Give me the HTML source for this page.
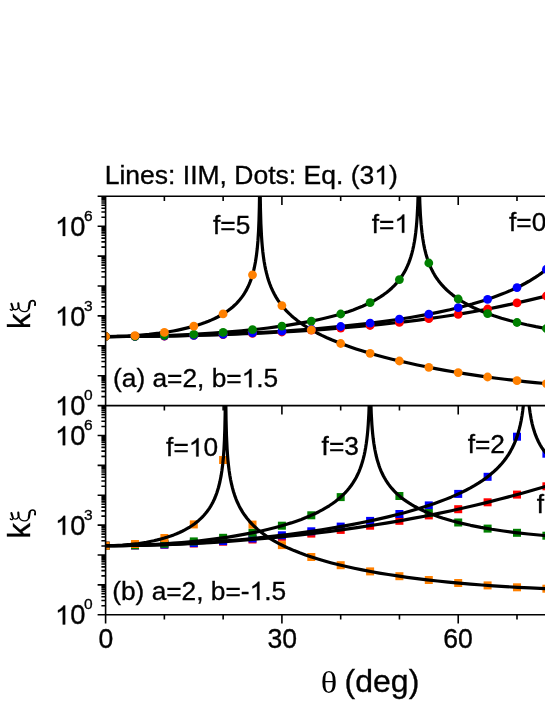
<!DOCTYPE html>
<html><head><meta charset="utf-8"><title>fig</title>
<style>
html,body{margin:0;padding:0;background:#fff;}
body{width:545px;height:705px;overflow:hidden;font-family:"Liberation Sans",sans-serif;}
svg{display:block;font-family:"Liberation Sans",sans-serif;}
</style></head><body>
<svg width="545" height="705" viewBox="0 0 545 705">
<defs><clipPath id="ca"><rect x="105.60" y="196.30" width="500" height="209.30"/></clipPath><clipPath id="cb"><rect x="105.60" y="405.60" width="500" height="209.10"/></clipPath></defs>
<g clip-path="url(#ca)">
<g fill="none" stroke="#000" stroke-width="3.20" stroke-linejoin="round">
<path d="M105.60,336.53L123.47,336.49L141.30,336.36L159.06,336.14L176.68,335.83L194.15,335.44L211.41,334.96L228.45,334.40L245.22,333.75L261.68,333.03L277.82,332.22L293.64,331.33L309.13,330.36L324.26,329.32L339.05,328.19L353.46,326.99L367.53,325.71L380.73,324.41L393.61,323.03L406.17,321.58L418.45,320.05L430.45,318.45L442.19,316.76L453.70,314.99L464.98,313.14L475.82,311.24L486.52,309.25L497.15,307.15L507.83,304.93L518.32,302.63L529.23,300.13L540.67,297.40L555.19,293.85"/>
<path d="M105.60,336.53L128.17,336.45L150.65,336.21L172.90,335.81L194.84,335.25L216.38,334.54L237.44,333.67L257.97,332.65L277.88,331.49L297.04,330.19L315.51,328.75L333.30,327.18L350.38,325.46L366.74,323.61L382.41,321.63L397.38,319.50L411.66,317.24L424.99,314.88L437.69,312.39L449.78,309.75L461.25,306.97L472.11,304.06L482.40,300.98L487.32,299.39L492.11,297.75L496.77,296.08L501.26,294.37L505.62,292.62L509.85,290.84L513.94,289.00L517.90,287.13L521.72,285.22L525.41,283.26L528.96,281.27L532.40,279.22L535.68,277.14L538.85,275.01L541.88,272.83L544.80,270.60L547.59,268.33L550.25,266.02L552.79,263.65L555.19,261.24"/>
<path d="M105.60,336.53L127.90,336.39L149.97,335.97L171.62,335.28L192.66,334.32L212.89,333.11L232.23,331.64L241.53,330.81L250.59,329.92L259.38,328.98L267.90,327.97L276.04,326.92L283.91,325.82L291.51,324.66L298.86,323.44L305.92,322.17L312.73,320.84L319.27,319.45L325.56,318.01L331.59,316.50L337.34,314.95L342.85,313.33L348.13,311.65L353.17,309.91L357.96,308.10L362.52,306.23L366.83,304.30L370.59,302.47L374.14,300.59L377.51,298.66L380.73,296.65L383.76,294.58L386.64,292.44L389.34,290.24L391.90,287.95L394.30,285.59L396.55,283.15L398.67,280.62L400.64,277.99L402.49,275.26L404.20,272.44L405.79,269.48L407.25,266.43L408.56,263.36L409.77,260.13L410.89,256.72L411.91,253.21L412.83,249.53L413.68,245.58L414.45,241.44L415.12,237.13L415.71,232.72L416.24,227.84L416.72,222.65L417.12,217.20L417.77,204.90L418.25,190.30L419.46,190.30L419.86,203.45L420.40,214.53L421.10,224.16L421.98,232.72L422.76,238.56L423.69,244.07L424.72,249.12L425.91,253.94L427.44,259.05L429.17,263.85L431.13,268.39L432.21,270.60L433.33,272.71L434.52,274.79L435.76,276.78L437.08,278.76L438.45,280.66L439.89,282.52L441.42,284.36L444.66,287.89L446.55,289.75L448.55,291.58L450.62,293.35L452.80,295.10L455.07,296.80L457.43,298.46L459.88,300.08L462.44,301.67L465.12,303.24L467.88,304.76L473.72,307.71L480.00,310.53L486.70,313.22L493.89,315.80L501.51,318.25L509.56,320.57L517.99,322.74L526.80,324.77L535.97,326.64L545.46,328.35L555.19,329.89"/>
<path d="M105.60,336.53L116.75,336.39L127.76,335.99L138.58,335.31L149.05,334.38L159.12,333.19L168.72,331.76L173.33,330.96L177.83,330.09L182.19,329.16L186.39,328.18L190.39,327.17L194.28,326.09L198.01,324.96L201.63,323.77L205.09,322.53L208.44,321.23L211.66,319.88L214.74,318.47L217.68,317.00L220.49,315.48L223.19,313.89L225.75,312.26L228.20,310.55L230.52,308.79L232.74,306.95L234.83,305.06L236.63,303.28L238.34,301.46L239.96,299.57L241.49,297.63L242.95,295.61L244.32,293.54L245.62,291.38L246.86,289.13L248.03,286.79L249.11,284.41L250.12,281.93L251.07,279.37L251.94,276.73L252.77,273.93L253.54,271.04L254.26,267.98L255.43,262.03L256.42,255.60L257.25,248.55L257.92,240.94L258.55,230.96L259.02,219.66L259.36,206.81L259.61,190.30L260.15,190.30L260.46,209.31L260.89,223.74L261.50,236.08L261.88,241.64L262.33,246.96L262.84,251.99L263.43,256.72L264.08,261.16L264.80,265.33L265.61,269.35L266.51,273.21L267.50,276.91L268.58,280.44L269.81,283.99L271.14,287.35L272.60,290.64L274.17,293.79L275.88,296.86L277.70,299.80L279.66,302.66L281.77,305.46L284.02,308.17L286.43,310.82L288.99,313.40L291.69,315.91L294.54,318.35L297.58,320.75L300.79,323.11L304.16,325.41L308.23,327.98L312.52,330.49L317.06,332.95L321.85,335.36L326.89,337.72L332.19,340.05L337.77,342.33L343.59,344.57L349.68,346.77L356.07,348.93L362.72,351.06L369.64,353.15L376.84,355.20L384.32,357.21L392.08,359.19L400.08,361.12L408.58,363.06L417.35,364.95L426.36,366.80L435.60,368.59L445.06,370.32L454.71,371.99L464.51,373.60L474.44,375.13L484.47,376.59L494.59,377.97L504.75,379.26L514.91,380.46L525.05,381.58L535.14,382.59L545.19,383.52L555.19,384.35"/>
</g>
<g fill="#ff0000">
<circle cx="105.6" cy="336.5" r="4.4"/>
<circle cx="135.0" cy="336.4" r="4.4"/>
<circle cx="164.4" cy="336.1" r="4.4"/>
<circle cx="193.8" cy="335.4" r="4.4"/>
<circle cx="223.1" cy="334.6" r="4.4"/>
<circle cx="252.5" cy="333.4" r="4.4"/>
<circle cx="281.9" cy="332.0" r="4.4"/>
<circle cx="311.3" cy="330.2" r="4.4"/>
<circle cx="340.7" cy="328.1" r="4.4"/>
<circle cx="370.1" cy="325.5" r="4.4"/>
<circle cx="399.4" cy="322.4" r="4.4"/>
<circle cx="428.8" cy="318.7" r="4.4"/>
<circle cx="458.2" cy="314.3" r="4.4"/>
<circle cx="487.6" cy="309.0" r="4.4"/>
<circle cx="517.0" cy="302.9" r="4.4"/>
<circle cx="546.4" cy="296.0" r="4.4"/>
</g>
<g fill="#0000ff">
<circle cx="105.6" cy="336.5" r="4.4"/>
<circle cx="135.0" cy="336.4" r="4.4"/>
<circle cx="164.4" cy="336.0" r="4.4"/>
<circle cx="193.8" cy="335.3" r="4.4"/>
<circle cx="223.1" cy="334.3" r="4.4"/>
<circle cx="252.5" cy="332.9" r="4.4"/>
<circle cx="281.9" cy="331.2" r="4.4"/>
<circle cx="311.3" cy="329.1" r="4.4"/>
<circle cx="340.7" cy="326.5" r="4.4"/>
<circle cx="370.1" cy="323.2" r="4.4"/>
<circle cx="399.4" cy="319.2" r="4.4"/>
<circle cx="428.8" cy="314.2" r="4.4"/>
<circle cx="458.2" cy="307.7" r="4.4"/>
<circle cx="487.6" cy="299.3" r="4.4"/>
<circle cx="517.0" cy="287.6" r="4.4"/>
<circle cx="546.4" cy="269.3" r="4.4"/>
</g>
<g fill="#008000">
<circle cx="105.6" cy="336.5" r="4.4"/>
<circle cx="135.0" cy="336.3" r="4.4"/>
<circle cx="164.4" cy="335.5" r="4.4"/>
<circle cx="193.8" cy="334.3" r="4.4"/>
<circle cx="223.1" cy="332.4" r="4.4"/>
<circle cx="252.5" cy="329.7" r="4.4"/>
<circle cx="281.9" cy="326.1" r="4.4"/>
<circle cx="311.3" cy="321.1" r="4.4"/>
<circle cx="340.7" cy="314.0" r="4.4"/>
<circle cx="370.1" cy="302.7" r="4.4"/>
<circle cx="399.4" cy="279.6" r="4.4"/>
<circle cx="428.8" cy="263.0" r="4.4"/>
<circle cx="458.2" cy="299.0" r="4.4"/>
<circle cx="487.6" cy="313.6" r="4.4"/>
<circle cx="517.0" cy="322.5" r="4.4"/>
<circle cx="546.4" cy="328.5" r="4.4"/>
</g>
<g fill="#ff8000">
<circle cx="105.6" cy="336.5" r="4.4"/>
<circle cx="135.0" cy="335.6" r="4.4"/>
<circle cx="164.4" cy="332.4" r="4.4"/>
<circle cx="193.8" cy="326.2" r="4.4"/>
<circle cx="223.1" cy="313.9" r="4.4"/>
<circle cx="252.5" cy="274.8" r="4.4"/>
<circle cx="281.9" cy="305.6" r="4.4"/>
<circle cx="311.3" cy="329.8" r="4.4"/>
<circle cx="340.7" cy="343.5" r="4.4"/>
<circle cx="370.1" cy="353.3" r="4.4"/>
<circle cx="399.4" cy="361.0" r="4.4"/>
<circle cx="428.8" cy="367.3" r="4.4"/>
<circle cx="458.2" cy="372.6" r="4.4"/>
<circle cx="487.6" cy="377.0" r="4.4"/>
<circle cx="517.0" cy="380.7" r="4.4"/>
<circle cx="546.4" cy="383.6" r="4.4"/>
</g>
</g>
<g clip-path="url(#cb)">
<g fill="#ff0000">
<rect x="101.6" y="541.7" width="8" height="8"/>
<rect x="131.0" y="541.4" width="8" height="8"/>
<rect x="160.4" y="540.7" width="8" height="8"/>
<rect x="189.8" y="539.5" width="8" height="8"/>
<rect x="219.1" y="537.7" width="8" height="8"/>
<rect x="248.5" y="535.5" width="8" height="8"/>
<rect x="277.9" y="532.8" width="8" height="8"/>
<rect x="307.3" y="529.6" width="8" height="8"/>
<rect x="336.7" y="525.9" width="8" height="8"/>
<rect x="366.1" y="521.7" width="8" height="8"/>
<rect x="395.4" y="516.8" width="8" height="8"/>
<rect x="424.8" y="511.4" width="8" height="8"/>
<rect x="454.2" y="505.2" width="8" height="8"/>
<rect x="483.6" y="498.3" width="8" height="8"/>
<rect x="513.0" y="490.6" width="8" height="8"/>
<rect x="542.4" y="482.3" width="8" height="8"/>
</g>
<g fill="#0000ff">
<rect x="101.6" y="541.7" width="8" height="8"/>
<rect x="131.0" y="541.4" width="8" height="8"/>
<rect x="160.4" y="540.6" width="8" height="8"/>
<rect x="189.8" y="539.1" width="8" height="8"/>
<rect x="219.1" y="537.1" width="8" height="8"/>
<rect x="248.5" y="534.5" width="8" height="8"/>
<rect x="277.9" y="531.3" width="8" height="8"/>
<rect x="307.3" y="527.3" width="8" height="8"/>
<rect x="336.7" y="522.6" width="8" height="8"/>
<rect x="366.1" y="516.9" width="8" height="8"/>
<rect x="395.4" y="510.0" width="8" height="8"/>
<rect x="424.8" y="501.4" width="8" height="8"/>
<rect x="454.2" y="489.9" width="8" height="8"/>
<rect x="483.6" y="472.8" width="8" height="8"/>
<rect x="513.0" y="432.7" width="8" height="8"/>
<rect x="542.4" y="449.7" width="8" height="8"/>
</g>
<g fill="#008000">
<rect x="101.6" y="541.7" width="8" height="8"/>
<rect x="131.0" y="541.2" width="8" height="8"/>
<rect x="160.4" y="539.8" width="8" height="8"/>
<rect x="189.8" y="537.4" width="8" height="8"/>
<rect x="219.1" y="533.8" width="8" height="8"/>
<rect x="248.5" y="528.8" width="8" height="8"/>
<rect x="277.9" y="521.7" width="8" height="8"/>
<rect x="307.3" y="511.3" width="8" height="8"/>
<rect x="336.7" y="493.1" width="8" height="8"/>
<rect x="366.1" y="-178.9" width="8" height="8"/>
<rect x="395.4" y="492.0" width="8" height="8"/>
<rect x="424.8" y="509.1" width="8" height="8"/>
<rect x="454.2" y="518.5" width="8" height="8"/>
<rect x="483.6" y="524.6" width="8" height="8"/>
<rect x="513.0" y="528.8" width="8" height="8"/>
<rect x="542.4" y="531.7" width="8" height="8"/>
</g>
<g fill="#ff8000">
<rect x="101.6" y="541.7" width="8" height="8"/>
<rect x="131.0" y="540.0" width="8" height="8"/>
<rect x="160.4" y="534.0" width="8" height="8"/>
<rect x="189.8" y="520.4" width="8" height="8"/>
<rect x="219.1" y="456.0" width="8" height="8"/>
<rect x="248.5" y="520.6" width="8" height="8"/>
<rect x="277.9" y="541.1" width="8" height="8"/>
<rect x="307.3" y="553.0" width="8" height="8"/>
<rect x="336.7" y="561.2" width="8" height="8"/>
<rect x="366.1" y="567.4" width="8" height="8"/>
<rect x="395.4" y="572.2" width="8" height="8"/>
<rect x="424.8" y="576.0" width="8" height="8"/>
<rect x="454.2" y="579.0" width="8" height="8"/>
<rect x="483.6" y="581.4" width="8" height="8"/>
<rect x="513.0" y="583.3" width="8" height="8"/>
<rect x="542.4" y="584.7" width="8" height="8"/>
</g>
<g fill="none" stroke="#000" stroke-width="3.20" stroke-linejoin="round">
<path d="M105.60,545.70L120.48,545.63L135.36,545.44L150.27,545.12L165.19,544.67L180.16,544.09L195.16,543.38L210.17,542.55L225.21,541.58L240.32,540.49L255.40,539.26L270.49,537.91L285.53,536.44L300.50,534.84L315.38,533.12L330.15,531.29L344.76,529.34L358.72,527.36L372.52,525.27L386.14,523.09L399.56,520.81L412.78,518.43L425.82,515.96L438.66,513.38L451.34,510.71L463.36,508.04L475.32,505.26L487.26,502.36L499.26,499.32L510.84,496.26L522.98,492.95L555.19,483.80"/>
<path d="M105.60,545.70L117.29,545.65L128.96,545.52L140.65,545.29L152.31,544.98L163.98,544.57L175.65,544.07L187.29,543.49L198.89,542.81L210.49,542.05L222.07,541.19L233.58,540.25L245.00,539.23L256.35,538.11L267.59,536.92L278.71,535.64L289.68,534.28L300.50,532.85L311.15,531.34L321.61,529.76L331.83,528.11L341.84,526.39L351.59,524.61L361.10,522.77L370.34,520.87L379.29,518.91L387.97,516.89L396.35,514.82L404.44,512.70L412.24,510.52L419.75,508.29L426.94,506.01L433.85,503.68L439.78,501.54L445.47,499.37L450.93,497.15L456.15,494.89L461.14,492.58L465.90,490.22L470.42,487.83L474.74,485.38L478.83,482.88L482.69,480.33L486.36,477.72L489.80,475.06L493.03,472.34L496.09,469.54L498.97,466.66L501.64,463.71L504.09,460.74L506.36,457.70L508.48,454.56L510.43,451.32L512.23,447.99L513.90,444.53L515.42,440.92L516.82,437.17L518.08,433.29L519.22,429.22L520.26,424.93L521.18,420.45L522.01,415.65L522.73,410.67L523.36,405.38L523.92,399.60L528.48,399.60L528.51,399.66L529.23,406.59L530.06,412.77L531.05,418.56L532.17,423.83L533.48,428.79L534.94,433.36L536.60,437.68L538.47,441.73L540.06,444.71L541.79,447.55L543.66,450.25L545.66,452.81L547.82,455.27L550.11,457.59L552.56,459.80L555.19,461.92"/>
<path d="M105.60,545.70L122.77,545.54L139.86,545.07L156.76,544.28L165.13,543.78L173.40,543.19L181.60,542.53L189.70,541.80L197.68,540.99L205.52,540.11L213.23,539.16L220.81,538.14L228.20,537.05L235.44,535.90L242.43,534.69L249.22,533.42L255.83,532.09L262.24,530.70L268.44,529.26L274.44,527.75L280.22,526.19L285.80,524.57L291.15,522.90L296.29,521.17L301.22,519.39L305.94,517.56L310.46,515.66L314.75,513.71L318.84,511.70L322.75,509.62L326.06,507.72L329.20,505.78L332.22,503.76L335.07,501.71L337.79,499.58L340.35,497.41L342.78,495.17L345.07,492.86L347.23,490.49L349.28,488.03L351.19,485.50L352.96,482.91L354.65,480.20L356.20,477.42L357.64,474.56L358.99,471.55L360.20,468.52L361.33,465.36L362.36,462.08L363.31,458.67L364.18,455.05L364.97,451.31L365.69,447.35L366.32,443.31L366.88,439.08L367.40,434.48L367.85,429.68L368.25,424.45L368.88,413.38L369.37,399.60L370.75,399.60L371.26,413.63L371.89,424.57L372.30,429.75L372.75,434.50L373.26,439.07L373.83,443.26L374.86,449.54L376.05,455.27L377.42,460.59L379.00,465.59L379.96,468.23L381.02,470.84L382.12,473.30L383.31,475.72L384.57,478.05L385.90,480.29L387.31,482.48L388.82,484.61L390.42,486.69L392.08,488.69L393.83,490.63L395.68,492.52L397.61,494.36L399.65,496.16L401.79,497.91L404.02,499.61L406.56,501.41L409.23,503.17L412.02,504.87L414.94,506.52L418.00,508.14L421.19,509.71L424.49,511.22L427.96,512.70L431.55,514.14L435.28,515.54L439.17,516.90L443.20,518.21L451.69,520.73L460.78,523.09L470.53,525.31L480.87,527.36L491.84,529.27L503.40,531.02L515.56,532.61L528.26,534.03L541.48,535.28L555.19,536.36"/>
<path d="M105.60,545.70L114.07,545.56L122.46,545.14L130.69,544.44L138.71,543.47L146.45,542.24L153.86,540.76L157.44,539.92L160.92,539.02L164.29,538.07L167.58,537.05L170.70,536.00L173.74,534.88L176.66,533.71L179.49,532.49L182.21,531.21L184.84,529.87L187.36,528.47L189.79,527.02L192.10,525.52L194.33,523.95L196.44,522.34L198.46,520.66L200.40,518.92L202.24,517.12L203.99,515.25L205.66,513.31L207.07,511.52L208.42,509.67L209.70,507.77L210.92,505.80L212.06,503.78L213.16,501.66L214.20,499.49L215.17,497.26L216.09,494.92L216.94,492.54L218.49,487.51L219.86,482.01L221.03,476.13L221.95,470.29L222.74,463.94L223.42,456.88L223.95,449.37L224.45,439.79L224.83,428.78L225.12,415.32L225.33,399.60L225.78,399.60L226.07,420.18L226.49,435.87L227.12,449.19L227.53,455.16L227.98,460.51L228.52,465.76L229.12,470.63L229.82,475.30L230.61,479.75L231.49,483.96L232.45,487.94L233.51,491.71L234.68,495.34L236.03,499.01L237.51,502.55L239.11,505.90L240.86,509.17L242.75,512.31L244.77,515.32L246.95,518.24L249.31,521.09L251.83,523.85L254.53,526.54L257.38,529.13L260.42,531.65L263.63,534.10L267.05,536.50L270.64,538.83L274.44,541.10L278.96,543.58L283.73,546.00L288.76,548.34L294.05,550.61L299.62,552.83L305.47,554.98L311.58,557.06L317.96,559.08L324.64,561.04L331.59,562.94L338.83,564.78L346.36,566.55L354.18,568.27L362.27,569.93L370.66,571.52L379.31,573.05L388.32,574.54L397.61,575.95L407.19,577.31L417.05,578.60L427.19,579.83L437.60,581.00L448.28,582.10L459.23,583.14L470.44,584.11L481.88,585.01L493.57,585.85L505.51,586.62L517.65,587.32L529.99,587.95L555.19,588.99"/>
</g>
</g>
<path d="M105.60,195.50V615.50M97.60,196.30H545M97.60,405.60H545M97.60,614.70H545M105.60,196.30v8.80M164.37,196.30v4.80M223.14,196.30v4.80M281.91,196.30v8.80M340.68,196.30v4.80M399.45,196.30v4.80M458.22,196.30v8.80M516.99,196.30v4.80M575.76,196.30v4.80M105.60,405.60v8.80M164.37,405.60v4.80M223.14,405.60v4.80M281.91,405.60v8.80M340.68,405.60v4.80M399.45,405.60v4.80M458.22,405.60v8.80M516.99,405.60v4.80M575.76,405.60v4.80M105.60,614.70v8.80M164.37,614.70v4.80M223.14,614.70v4.80M281.91,614.70v8.80M340.68,614.70v4.80M399.45,614.70v4.80M458.22,614.70v8.80M516.99,614.70v4.80M575.76,614.70v4.80M105.60,405.60h-8M105.60,396.60h-4.2M105.60,391.33h-4.2M105.60,387.60h-4.2M105.60,384.70h-4.2M105.60,382.33h-4.2M105.60,380.33h-4.2M105.60,378.60h-4.2M105.60,377.07h-4.2M105.60,375.70h-8M105.60,366.70h-4.2M105.60,361.43h-4.2M105.60,357.70h-4.2M105.60,354.80h-4.2M105.60,352.43h-4.2M105.60,350.43h-4.2M105.60,348.70h-4.2M105.60,347.17h-4.2M105.60,345.80h-8M105.60,336.80h-4.2M105.60,331.53h-4.2M105.60,327.80h-4.2M105.60,324.90h-4.2M105.60,322.53h-4.2M105.60,320.53h-4.2M105.60,318.80h-4.2M105.60,317.27h-4.2M105.60,315.90h-8M105.60,306.90h-4.2M105.60,301.63h-4.2M105.60,297.90h-4.2M105.60,295.00h-4.2M105.60,292.63h-4.2M105.60,290.63h-4.2M105.60,288.90h-4.2M105.60,287.37h-4.2M105.60,286.00h-8M105.60,277.00h-4.2M105.60,271.73h-4.2M105.60,268.00h-4.2M105.60,265.10h-4.2M105.60,262.73h-4.2M105.60,260.73h-4.2M105.60,259.00h-4.2M105.60,257.47h-4.2M105.60,256.10h-8M105.60,247.10h-4.2M105.60,241.83h-4.2M105.60,238.10h-4.2M105.60,235.20h-4.2M105.60,232.83h-4.2M105.60,230.83h-4.2M105.60,229.10h-4.2M105.60,227.57h-4.2M105.60,226.20h-8M105.60,217.20h-4.2M105.60,211.93h-4.2M105.60,208.20h-4.2M105.60,205.30h-4.2M105.60,202.93h-4.2M105.60,200.93h-4.2M105.60,199.20h-4.2M105.60,197.67h-4.2M105.60,196.30h-8M105.60,614.70h-8M105.60,605.71h-4.2M105.60,600.45h-4.2M105.60,596.72h-4.2M105.60,593.82h-4.2M105.60,591.46h-4.2M105.60,589.46h-4.2M105.60,587.72h-4.2M105.60,586.20h-4.2M105.60,584.83h-8M105.60,575.84h-4.2M105.60,570.58h-4.2M105.60,566.84h-4.2M105.60,563.95h-4.2M105.60,561.58h-4.2M105.60,559.58h-4.2M105.60,557.85h-4.2M105.60,556.32h-4.2M105.60,554.96h-8M105.60,545.96h-4.2M105.60,540.70h-4.2M105.60,536.97h-4.2M105.60,534.08h-4.2M105.60,531.71h-4.2M105.60,529.71h-4.2M105.60,527.98h-4.2M105.60,526.45h-4.2M105.60,525.09h-8M105.60,516.09h-4.2M105.60,510.83h-4.2M105.60,507.10h-4.2M105.60,504.21h-4.2M105.60,501.84h-4.2M105.60,499.84h-4.2M105.60,498.11h-4.2M105.60,496.58h-4.2M105.60,495.21h-8M105.60,486.22h-4.2M105.60,480.96h-4.2M105.60,477.23h-4.2M105.60,474.34h-4.2M105.60,471.97h-4.2M105.60,469.97h-4.2M105.60,468.24h-4.2M105.60,466.71h-4.2M105.60,465.34h-8M105.60,456.35h-4.2M105.60,451.09h-4.2M105.60,447.36h-4.2M105.60,444.46h-4.2M105.60,442.10h-4.2M105.60,440.10h-4.2M105.60,438.37h-4.2M105.60,436.84h-4.2M105.60,435.47h-8M105.60,426.48h-4.2M105.60,421.22h-4.2M105.60,417.49h-4.2M105.60,414.59h-4.2M105.60,412.23h-4.2M105.60,410.23h-4.2M105.60,408.49h-4.2M105.60,406.97h-4.2M105.60,405.60h-8" stroke="#000" stroke-width="1.60" fill="none"/>
<g font-family="Liberation Sans" fill="#000" stroke="#000" stroke-width="0.35" opacity="0.999">
<text x="104.70" y="184.20" font-size="26.5">Lines: IIM, Dots: Eq. (3</text>
<path transform="translate(374.22,184.20) scale(0.01294,-0.01249)" stroke-width="27.0" d="M763,0H583V1147Q518,1085 412.5,1023Q307,961 223,930V1104Q374,1175 487,1276Q600,1377 647,1472H763Z"/>
<text x="388.95" y="184.20" font-size="26.5">)</text>
<text x="213.00" y="234.10" font-size="26.3">f=5</text>
<text x="371.80" y="232.70" font-size="26.3">f=</text>
<path transform="translate(394.47,232.70) scale(0.01284,-0.01239)" stroke-width="27.3" d="M763,0H583V1147Q518,1085 412.5,1023Q307,961 223,930V1104Q374,1175 487,1276Q600,1377 647,1472H763Z"/>
<text x="509.00" y="231.20" font-size="26.3">f=0.4</text>
<text x="113.00" y="387.20" font-size="26.3">(a) a=2, b=</text>
<path transform="translate(241.66,387.20) scale(0.01284,-0.01239)" stroke-width="27.3" d="M763,0H583V1147Q518,1085 412.5,1023Q307,961 223,930V1104Q374,1175 487,1276Q600,1377 647,1472H763Z"/>
<text x="256.29" y="387.20" font-size="26.3">.5</text>
<text x="166.10" y="456.40" font-size="26.3">f=</text>
<path transform="translate(188.77,456.40) scale(0.01284,-0.01239)" stroke-width="27.3" d="M763,0H583V1147Q518,1085 412.5,1023Q307,961 223,930V1104Q374,1175 487,1276Q600,1377 647,1472H763Z"/>
<text x="203.39" y="456.40" font-size="26.3">0</text>
<text x="321.60" y="454.90" font-size="26.3">f=3</text>
<text x="467.70" y="453.40" font-size="26.3">f=2</text>
<text x="536.80" y="513.30" font-size="26.3">f=</text>
<path transform="translate(559.47,513.30) scale(0.01284,-0.01239)" stroke-width="27.3" d="M763,0H583V1147Q518,1085 412.5,1023Q307,961 223,930V1104Q374,1175 487,1276Q600,1377 647,1472H763Z"/>
<text x="574.09" y="513.30" font-size="26.3">.8</text>
<text x="112.20" y="599.90" font-size="26.3">(b) a=2, b=-</text>
<path transform="translate(249.62,599.90) scale(0.01284,-0.01239)" stroke-width="27.3" d="M763,0H583V1147Q518,1085 412.5,1023Q307,961 223,930V1104Q374,1175 487,1276Q600,1377 647,1472H763Z"/>
<text x="264.25" y="599.90" font-size="26.3">.5</text>
<path transform="translate(55.00,415.30) scale(0.01333,-0.01286)" stroke-width="26.3" d="M763,0H583V1147Q518,1085 412.5,1023Q307,961 223,930V1104Q374,1175 487,1276Q600,1377 647,1472H763Z"/>
<text x="70.18" y="415.30" font-size="27.3">0</text>
<text x="84.10" y="400.30" font-size="15.5">0</text>
<path transform="translate(55.00,325.60) scale(0.01333,-0.01286)" stroke-width="26.3" d="M763,0H583V1147Q518,1085 412.5,1023Q307,961 223,930V1104Q374,1175 487,1276Q600,1377 647,1472H763Z"/>
<text x="70.18" y="325.60" font-size="27.3">0</text>
<text x="84.10" y="310.60" font-size="15.5">3</text>
<path transform="translate(55.00,235.90) scale(0.01333,-0.01286)" stroke-width="26.3" d="M763,0H583V1147Q518,1085 412.5,1023Q307,961 223,930V1104Q374,1175 487,1276Q600,1377 647,1472H763Z"/>
<text x="70.18" y="235.90" font-size="27.3">0</text>
<text x="84.10" y="220.90" font-size="15.5">6</text>
<path transform="translate(55.00,624.40) scale(0.01333,-0.01286)" stroke-width="26.3" d="M763,0H583V1147Q518,1085 412.5,1023Q307,961 223,930V1104Q374,1175 487,1276Q600,1377 647,1472H763Z"/>
<text x="70.18" y="624.40" font-size="27.3">0</text>
<text x="84.10" y="609.40" font-size="15.5">0</text>
<path transform="translate(55.00,534.79) scale(0.01333,-0.01286)" stroke-width="26.3" d="M763,0H583V1147Q518,1085 412.5,1023Q307,961 223,930V1104Q374,1175 487,1276Q600,1377 647,1472H763Z"/>
<text x="70.18" y="534.79" font-size="27.3">0</text>
<text x="84.10" y="519.79" font-size="15.5">3</text>
<path transform="translate(55.00,445.17) scale(0.01333,-0.01286)" stroke-width="26.3" d="M763,0H583V1147Q518,1085 412.5,1023Q307,961 223,930V1104Q374,1175 487,1276Q600,1377 647,1472H763Z"/>
<text x="70.18" y="445.17" font-size="27.3">0</text>
<text x="84.10" y="430.17" font-size="15.5">6</text>
<text transform="translate(98.50,648.30) scale(1,1.025)" font-size="26.6">0</text>
<text transform="translate(267.42,648.30) scale(1,1.025)" font-size="26.6">30</text>
<text transform="translate(443.13,648.30) scale(1,1.025)" font-size="26.6">60</text>
<text transform="translate(320.8,693) scale(1.09,1)" font-size="31.5" font-family="Liberation Serif" stroke="none">θ</text>
<text x="344.6" y="691.9" font-size="32">(deg)</text>
<text transform="translate(29.9,329.0) rotate(-90)" font-size="31">k</text>
<g transform="translate(6.00,295.00) scale(0.06238)" fill="none" stroke="#000" stroke-linecap="round" stroke-linejoin="round"><path stroke-width="21" d="M68,230Q74,248 100,243Q112,238 110,214Q122,236 152,236Q182,234 194,208M205,203C225,245 270,268 305,265C340,262 362,242 369,205"/><path stroke-width="27" d="M378,128C385,100 408,90 428,90C454,90 470,108 468,140L466,160"/><path stroke-width="34" d="M87,140L108,206M197,132L203,198"/><path stroke-width="36" d="M366,212L379,126"/><path stroke-width="30" d="M467,148L465,162"/></g>
<text transform="translate(29.9,538.4) rotate(-90)" font-size="31">k</text>
<g transform="translate(6.00,504.40) scale(0.06238)" fill="none" stroke="#000" stroke-linecap="round" stroke-linejoin="round"><path stroke-width="21" d="M68,230Q74,248 100,243Q112,238 110,214Q122,236 152,236Q182,234 194,208M205,203C225,245 270,268 305,265C340,262 362,242 369,205"/><path stroke-width="27" d="M378,128C385,100 408,90 428,90C454,90 470,108 468,140L466,160"/><path stroke-width="34" d="M87,140L108,206M197,132L203,198"/><path stroke-width="36" d="M366,212L379,126"/><path stroke-width="30" d="M467,148L465,162"/></g>
</g>
</svg>
</body></html>
